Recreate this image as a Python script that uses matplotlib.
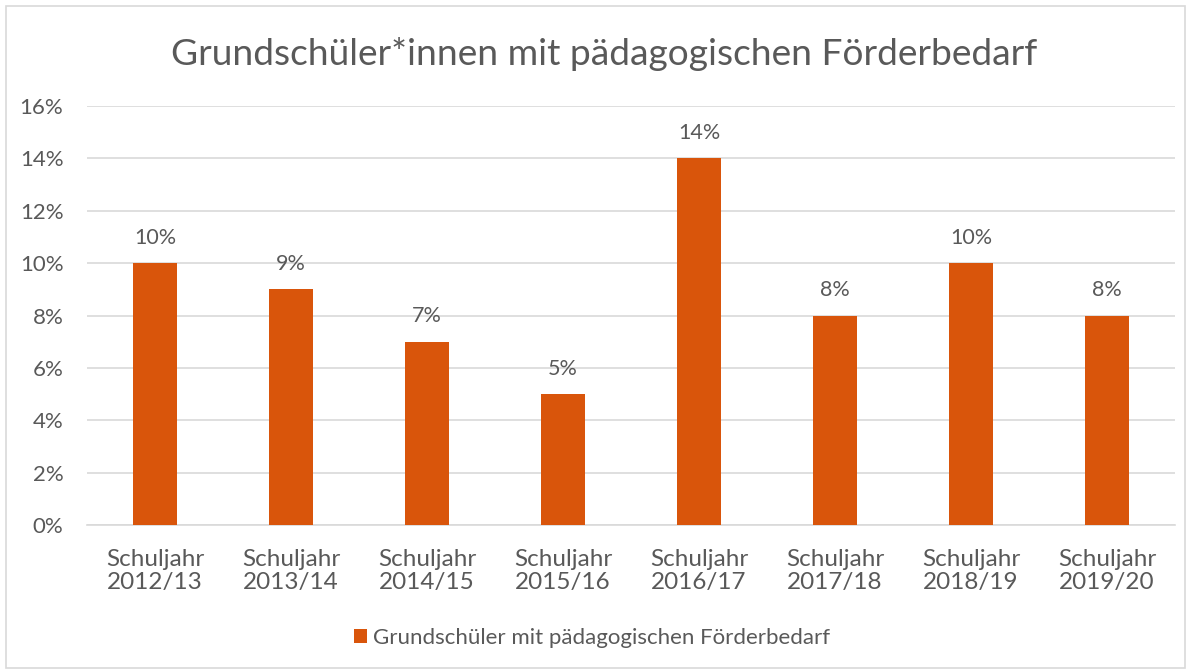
import matplotlib
matplotlib.use("Agg")
import matplotlib.pyplot as plt
from matplotlib.patches import Rectangle
from matplotlib.ticker import FuncFormatter, MultipleLocator

categories = ["Schuljahr\n2012/13", "Schuljahr\n2013/14", "Schuljahr\n2014/15", "Schuljahr\n2015/16",
              "Schuljahr\n2016/17", "Schuljahr\n2017/18", "Schuljahr\n2018/19", "Schuljahr\n2019/20"]
values = [10, 9, 7, 5, 14, 8, 10, 8]
series_name = "Grundschüler mit pädagogischen Förderbedarf"
title = "Grundschüler*innen mit pädagogischen Förderbedarf"

plt.rcParams['font.family'] = ['Lato', 'DejaVu Sans']
txt = "#595959"
bar_color = "#D9550B"
grid_color = "#D9D9D9"

W, H = 1191, 672
fig = plt.figure(figsize=(W/100, H/100), dpi=100)
fig.patches.append(Rectangle((6/W, 4/H), (W-12)/W, (H-10)/H, transform=fig.transFigure,
                             fill=False, edgecolor="#D9D9D9", linewidth=1.2))

left, right, top, bottom = 87, 1175, 106, 525
ax = fig.add_axes([left/W, 1-bottom/H, (right-left)/W, (bottom-top)/H])
x = range(len(categories))
bars = ax.bar(x, values, width=0.32, color=bar_color, label=series_name, zorder=3)
ax.set_xlim(-0.5, len(categories)-0.5)
ax.set_ylim(0, 16)
ax.yaxis.set_major_locator(MultipleLocator(2))
ax.yaxis.set_major_formatter(FuncFormatter(lambda v, p: f"{int(v)}%"))
ax.grid(axis='y', color=grid_color, linewidth=1.2, zorder=0)
for s in ['top', 'right', 'left']:
    ax.spines[s].set_visible(False)
ax.spines['bottom'].set_color(grid_color)
ax.spines['bottom'].set_linewidth(1.2)
ax.tick_params(axis='both', length=0, colors=txt)
ax.tick_params(axis='y', pad=17, labelsize=16)
ax.tick_params(axis='x', pad=17.5, labelsize=17.5)
ax.set_xticks(list(x))
ax.set_xticklabels(categories, linespacing=1.08)
for xi, v in zip(x, values):
    ax.annotate(f"{v}%", (xi, v), xytext=(0, 11), textcoords="offset points",
                ha='center', va='bottom', fontsize=15.5, color=txt)

fig.text(604/W, 1-54/H, title, ha='center', va='center', fontsize=26.7, color=txt)
fig.legend(handles=[bars], labels=[series_name], loc='center', bbox_to_anchor=(592/W, 1-638/H),
           frameon=False, fontsize=16, labelcolor=txt, handlelength=0.6, handleheight=0.6,
           handletextpad=0.25)
fig.savefig("out.png", dpi=100)
